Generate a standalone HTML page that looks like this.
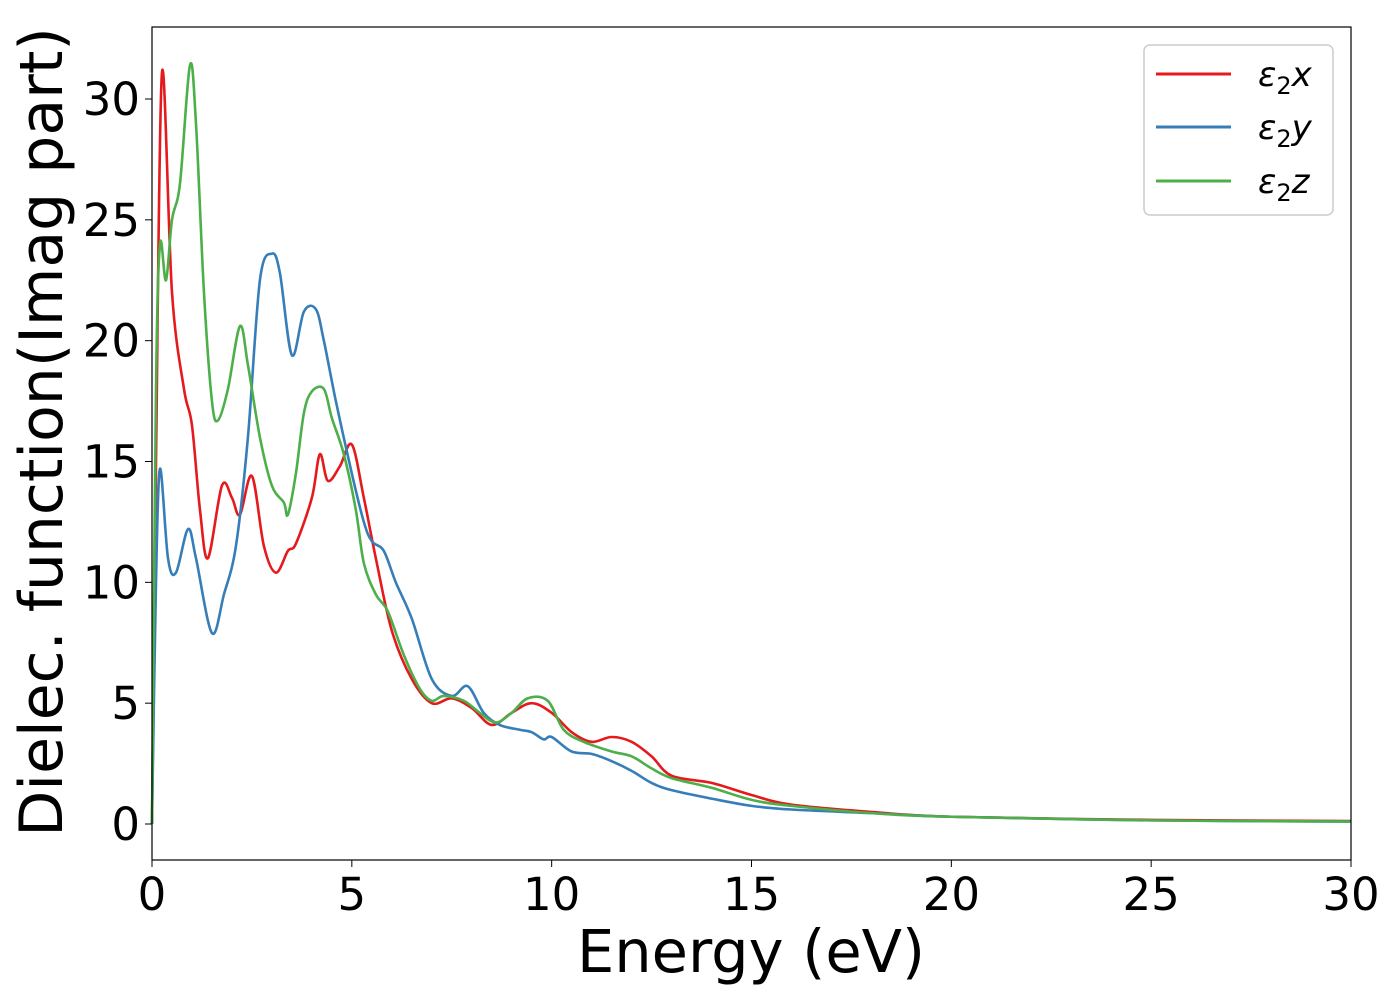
<!DOCTYPE html>
<html><head><meta charset="utf-8"><style>
body{margin:0;background:#fff;}
svg text{font-family:"DejaVu Sans","Liberation Sans",sans-serif;fill:#000;}
</style></head><body>
<svg id="chart" width="1400" height="1000" xmlns="http://www.w3.org/2000/svg">
<rect width="1400" height="1000" fill="#fff"/>
<g id="series"></g>
<rect x="152" y="27" width="1199" height="833" fill="none" stroke="#000" stroke-width="1.2"/>
<g id="axes"></g>
<text x="751" y="972" font-size="59" text-anchor="middle">Energy (eV)</text>
<text transform="translate(62,432) rotate(-90)" font-size="60" text-anchor="middle">Dielec. function(Imag part)</text>
<g>
<rect x="1144" y="45" width="189" height="170" rx="6" fill="#fff" stroke="#ccc" stroke-width="1.5"/>
<line x1="1156" y1="74" x2="1231" y2="74" stroke="#e41a1c" stroke-width="3"/>
<text x="1258" y="86" font-size="34"><tspan font-style="italic">ε</tspan><tspan font-size="24" dy="8">2</tspan><tspan font-style="italic" dy="-8">x</tspan></text>
<line x1="1156" y1="127" x2="1231" y2="127" stroke="#377eb8" stroke-width="3"/>
<text x="1258" y="139" font-size="34"><tspan font-style="italic">ε</tspan><tspan font-size="24" dy="8">2</tspan><tspan font-style="italic" dy="-8">y</tspan></text>
<line x1="1156" y1="181" x2="1231" y2="181" stroke="#4daf4a" stroke-width="3"/>
<text x="1258" y="193" font-size="34"><tspan font-style="italic">ε</tspan><tspan font-size="24" dy="8">2</tspan><tspan font-style="italic" dy="-8">z</tspan></text>
</g>
</svg>
<script>
const xTicks=[0,5,10,15,20,25,30];
const yTicks=[0,5,10,15,20,25,30];
const exE=[0,0.1,0.25,0.5,0.8,1.0,1.2,1.4,1.75,2.0,2.2,2.5,2.8,3.1,3.4,3.6,4.0,4.2,4.4,4.7,5.0,5.3,5.6,6.0,6.5,7,7.5,8,8.5,9,9.5,10,10.5,11,11.5,12,12.5,13,14,15,16,18,20,25,30];
const exV=[0,15,31.1,22,18,16.5,13,11,14,13.5,12.8,14.4,11.5,10.4,11.3,11.6,13.5,15.3,14.2,14.8,15.7,13.5,11,8,6,5,5.2,4.8,4.1,4.6,5,4.6,3.8,3.4,3.6,3.4,2.8,2.0,1.7,1.2,0.8,0.5,0.3,0.17,0.12];
const eyE=[0,0.1,0.2,0.4,0.6,0.9,1.1,1.5,1.8,2.1,2.4,2.7,3.0,3.2,3.5,3.8,4.1,4.3,4.6,5,5.3,5.5,5.8,6.1,6.5,7,7.5,7.9,8.3,8.7,9.2,9.5,9.8,10,10.5,11,11.5,12,12.5,13,14,15,16,18,20,25,30];
const eyV=[0,10,14.7,11,10.4,12.2,11,7.9,9.5,11.5,16,22.5,23.6,22.8,19.4,21.2,21.3,20,17.5,14.5,12.5,11.7,11.3,10,8.5,6,5.3,5.7,4.6,4.1,3.9,3.8,3.5,3.6,3.0,2.9,2.6,2.2,1.7,1.4,1.05,0.75,0.6,0.45,0.3,0.15,0.1];
const ezE=[0,0.1,0.2,0.35,0.5,0.7,0.95,1.1,1.3,1.5,1.65,1.9,2.2,2.4,2.7,3.0,3.3,3.4,3.6,3.8,4.0,4.3,4.5,4.8,5.1,5.3,5.6,5.9,6.3,6.7,7,7.3,7.8,8.2,8.6,9,9.4,9.9,10.3,10.8,11.5,12,12.5,13,14,15,16,18,20,25,30];
const ezV=[0,18,24,22.5,25,26.5,31.4,29,22,17.5,16.7,18,20.6,19,16,14,13.3,12.8,14.5,17,17.9,18,16.8,15.3,13,10.8,9.5,8.8,7,5.6,5.1,5.3,5.1,4.6,4.2,4.6,5.2,5.1,3.9,3.4,3.0,2.8,2.3,1.9,1.5,1.0,0.75,0.45,0.3,0.15,0.1];
const X0=152,X1=1351,YTOP=27,YBOT=860;
const sx=e=>X0+(e-0)/(30-0)*(X1-X0);
const sy=v=>824-v*(824-99)/30;
const NS='http://www.w3.org/2000/svg';
const axes=document.getElementById('axes');
xTicks.forEach(t=>{
 const l=document.createElementNS(NS,'line');
 l.setAttribute('x1',sx(t));l.setAttribute('x2',sx(t));l.setAttribute('y1',YBOT);l.setAttribute('y2',YBOT+7);l.setAttribute('stroke','#000');
 
 
 axes.appendChild(l);
 const tx=document.createElementNS(NS,'text');
 tx.setAttribute('x',sx(t));tx.setAttribute('y',910);tx.setAttribute('font-size','45');tx.setAttribute('text-anchor','middle');tx.textContent=t;
 
 
 axes.appendChild(tx);
});
yTicks.forEach(t=>{
 const l=document.createElementNS(NS,'line');
 l.setAttribute('x1',X0-7);l.setAttribute('x2',X0);l.setAttribute('y1',sy(t));l.setAttribute('y2',sy(t));l.setAttribute('stroke','#000');
 
 
 axes.appendChild(l);
 const tx=document.createElementNS(NS,'text');
 tx.setAttribute('x',X0-12);tx.setAttribute('y',sy(t)+16);tx.setAttribute('font-size','45');tx.setAttribute('text-anchor','end');tx.textContent=t;
 
 
 axes.appendChild(tx);
});
function pathOf(E,V){
 const p=E.map((e,i)=>[sx(e),sy(V[i])]);
 let d='M'+p[0][0]+','+p[0][1];
 for(let i=0;i<p.length-1;i++){
  const a=p[Math.max(0,i-1)],b=p[i],c=p[i+1],n=p[Math.min(p.length-1,i+2)];
  const c1=[b[0]+(c[0]-a[0])/6,b[1]+(c[1]-a[1])/6];
  const c2=[c[0]-(n[0]-b[0])/6,c[1]-(n[1]-b[1])/6];
  d+=' C'+c1+' '+c2+' '+c;
 }
 return d;
}
const g=document.getElementById('series');
[[exE,exV,'#e41a1c','series-eps2-x'],[eyE,eyV,'#377eb8','series-eps2-y'],[ezE,ezV,'#4daf4a','series-eps2-z']].forEach(s=>{
 const p=document.createElementNS(NS,'path');
 p.setAttribute('d',pathOf(s[0],s[1]));p.setAttribute('fill','none');p.setAttribute('stroke',s[2]);p.setAttribute('stroke-width','2.6');
 
 
 g.appendChild(p);
});
</script>
</body></html>
